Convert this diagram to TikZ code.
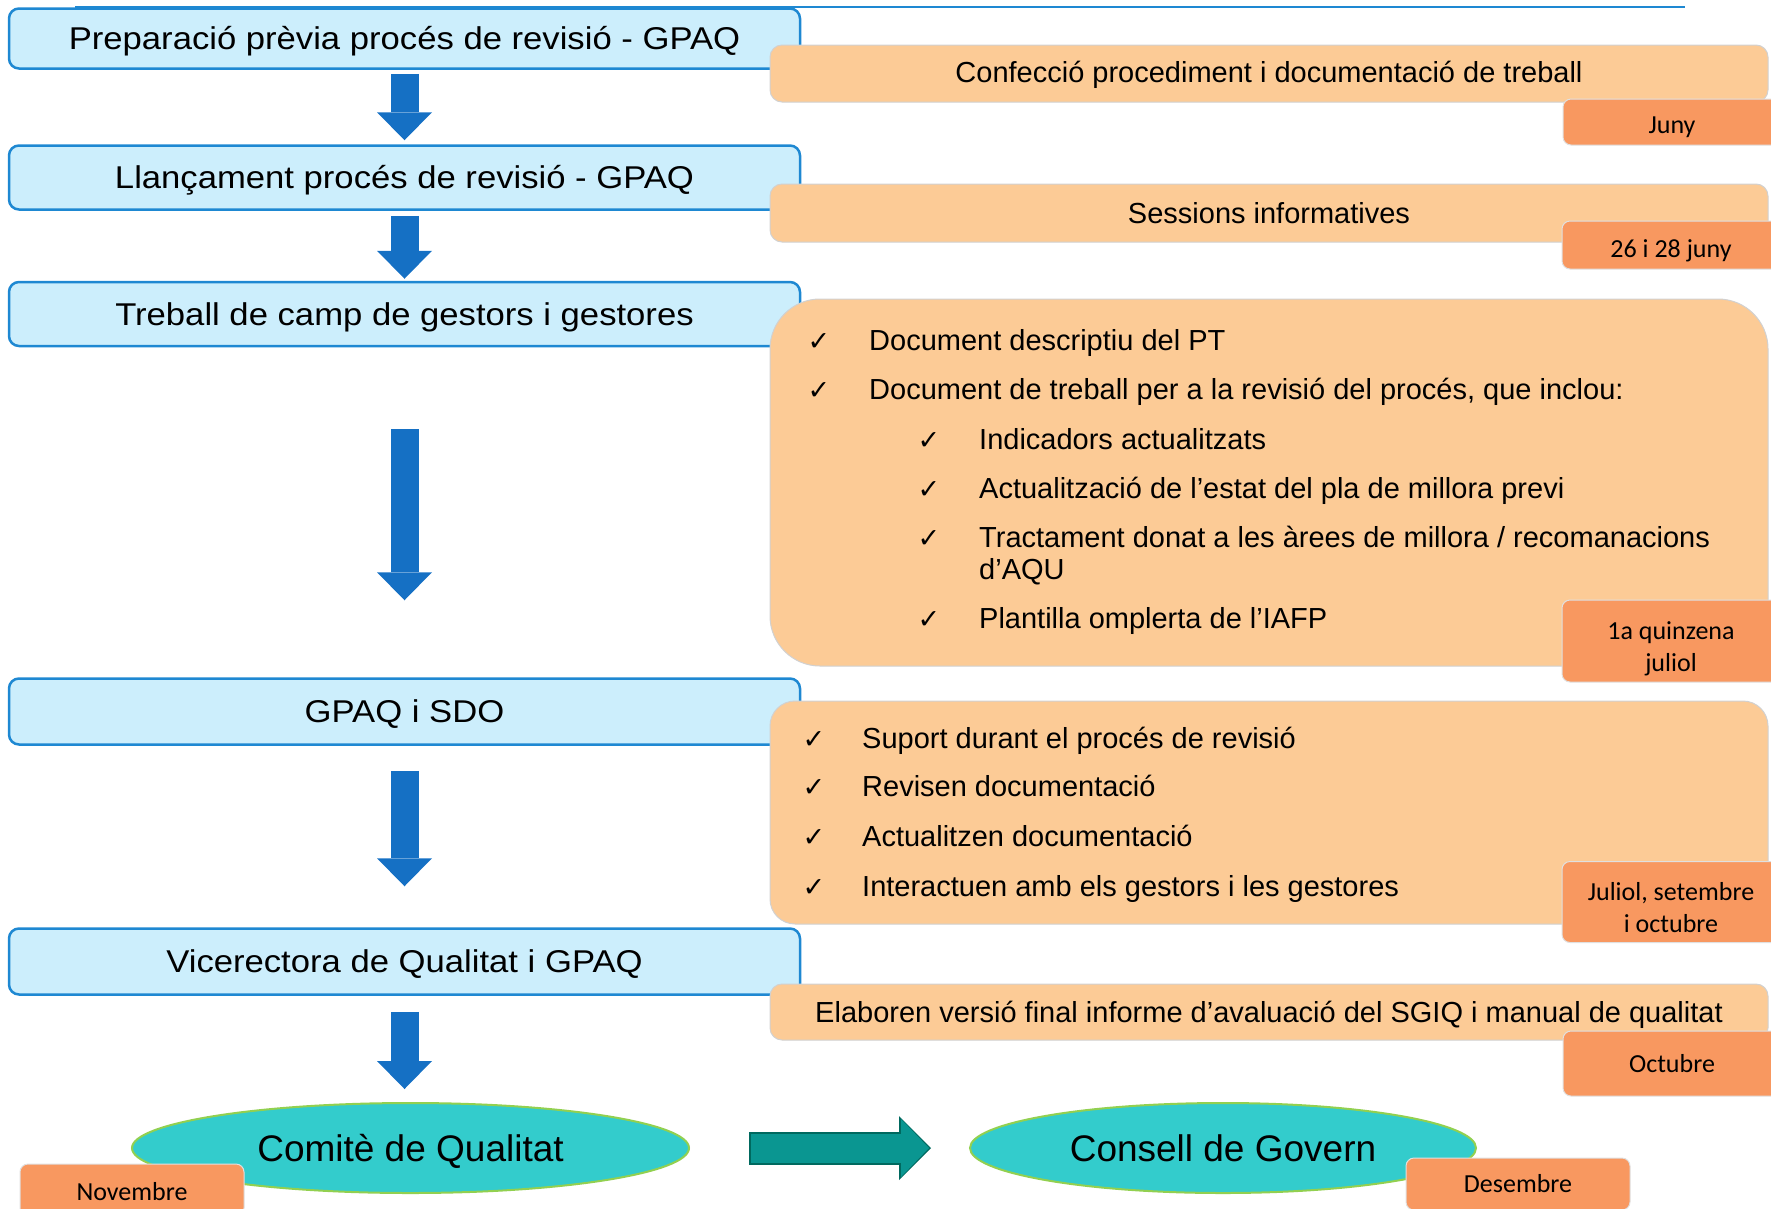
\documentclass[tikz,border=0pt]{standalone}
\usepackage{fontspec}
\setmainfont{Liberation Sans}
\newfontfamily\stagefont[FakeStretch=1.1]{Liberation Sans}
\newfontfamily\datefont{Carlito}
\newfontfamily\tickfont{DejaVu Sans}
\usetikzlibrary{arrows.meta,shapes.geometric}

\definecolor{boxblue}{RGB}{204,238,252}
\definecolor{lineblue}{RGB}{30,136,210}
\definecolor{arrowblue}{RGB}{21,112,196}
\definecolor{peach}{RGB}{252,203,150}
\definecolor{datebg}{RGB}{248,152,96}
\definecolor{tealfill}{RGB}{51,204,204}
\definecolor{tealarrow}{RGB}{10,150,145}
\definecolor{tealedge}{RGB}{0,105,95}
\definecolor{limeedge}{RGB}{146,208,80}

\newcommand{\tick}{{\tickfont\fontsize{27}{27}\selectfont ✓}}

\tikzset{
  stage/.style={draw=lineblue, line width=2.5pt, fill=boxblue, rounded corners=10pt,
    minimum width=791pt, inner sep=0pt, text height=28pt, text depth=6pt,
    font=\stagefont\fontsize{31.5}{38}\selectfont},
  task/.style={draw=black!18, line width=1pt, fill=peach, rounded corners=12pt,
    minimum width=998pt, inner sep=0pt, text height=27pt, text depth=6pt,
    font=\fontsize{29}{34}\selectfont},
  when/.style={draw=black!12, line width=1pt, fill=datebg, rounded corners=8pt,
    minimum width=218pt, inner sep=0pt, align=center, font=\datefont\fontsize{26}{32}\selectfont},
  body/.style={ellipse, draw=limeedge, line width=2pt, fill=tealfill, inner sep=0pt,
    text height=33pt, text depth=6.5pt, font=\fontsize{37}{40}\selectfont},
  checkitem/.style={anchor=base west, inner sep=0pt, font=\fontsize{29}{33}\selectfont},
  checkmark/.style={anchor=base, inner sep=0pt},
  down/.style={arrowblue, line width=28pt, -{Triangle[width=55pt,length=28pt,line width=0pt]}},
}

\begin{document}
\begin{tikzpicture}[x=1pt,y=-1pt]
  \useasboundingbox (0,0) rectangle (1771,1208);

  \draw[lineblue, line width=2pt] (75,7) -- (1685,7);

  % left column
  \node[stage, minimum height=60pt] (prep) at (404.5,38.5) {Preparació prèvia procés de revisió - GPAQ};
  \node[stage, minimum height=64pt] (llanc) at (404.5,177.5) {Llançament procés de revisió - GPAQ};
  \node[stage, minimum height=64pt] (camp) at (404.5,314) {Treball de camp de gestors i gestores};
  \node[stage, minimum height=66pt] (sdo) at (404.5,711.5) {GPAQ i SDO};
  \node[stage, minimum height=66pt] (vice) at (404.5,961.5) {Vicerectora de Qualitat i GPAQ};

  \node[body, minimum width=557pt, minimum height=90pt] (comite) at (410.5,1148) {Comitè de Qualitat};
  \node[body, minimum width=506pt, minimum height=90pt] (consell) at (1223,1148) {Consell de Govern};

  \draw[down, shorten <=4pt, shorten >=4pt] (prep) -- (llanc);
  \draw[down, shorten <=5pt, shorten >=2pt] (llanc) -- (camp);
  \draw[down, shorten <=82pt, shorten >=77pt] (camp) -- (sdo);
  \draw[down, shorten <=25pt, shorten >=41pt] (sdo) -- (vice);
  \draw[down, shorten <=16pt, shorten >=13pt] (vice.south) -- (vice.south |- comite.north);

  \draw[tealedge, line width=33pt, shorten <=59pt, shorten >=38pt,
    -{Triangle[width=64pt,length=32pt,line width=0pt]}] (comite) -- (consell);
  \draw[tealarrow, line width=29pt, shorten <=61pt, shorten >=40pt,
    -{Triangle[width=58pt,length=28pt,line width=0pt]}] (comite) -- (consell);

  % right column
  \node[task, minimum height=57pt, text height=23pt] (confec) at (1269,73.5) {Confecció procediment i documentació de treball};
  \node[task, minimum height=58pt] (sessions) at (1269,213) {Sessions informatives};
  \node[task, minimum height=367pt, rounded corners=50pt] (docs) at (1269,482.5) {};
  \node[task, minimum height=223pt, rounded corners=25pt] (suport) at (1269,812.5) {};
  \node[task, minimum height=56pt] (final) at (1269,1012) {Elaboren versió final informe d’avaluació del SGIQ i manual de qualitat};

  \foreach \y/\txt in {350/Document descriptiu del PT,
                       399/{Document de treball per a la revisió del procés, que inclou:}} {
    \node[checkmark] at (819,\y) {\tick};
    \node[checkitem] at (869,\y) {\txt};
  }
  \foreach \y/\txt in {449/Indicadors actualitzats,
                       498/Actualització de l’estat del pla de millora previ,
                       547/{Tractament donat a les àrees de millora / recomanacions},
                       628/Plantilla omplerta de l’IAFP} {
    \node[checkmark] at (929,\y) {\tick};
    \node[checkitem] at (979,\y) {\txt};
  }
  \node[checkitem] (aqu) at (979,579) {d’AQU};

  \foreach \y/\txt in {748/Suport durant el procés de revisió,
                       796/Revisen documentació,
                       846/Actualitzen documentació,
                       896/Interactuen amb els gestors i les gestores} {
    \node[checkmark] at (814,\y) {\tick};
    \node[checkitem] at (862,\y) {\txt};
  }

  % dates
  \node[when, minimum height=46pt] (juny) at (1672,122) {\rule{0pt}{27pt}Juny};
  \node[when, minimum height=48pt] (sess) at (1671,245) {\rule{0pt}{29pt}26 i 28 juny};
  \node[when, minimum height=82pt] (quinz) at (1671,641) {\rule{0pt}{33pt}1a quinzena\\juliol};
  \node[when, minimum height=81pt] (juliol) at (1671,902) {\rule{0pt}{30pt}Juliol, setembre\\i octubre};
  \node[when, minimum height=65pt] (oct) at (1672,1063.5) {Octubre};
  \node[when, minimum width=224pt, minimum height=52pt] (nov) at (132,1190) {\rule{0pt}{21pt}Novembre};
  \node[when, minimum width=224pt, minimum height=52pt] (des) at (1518,1184) {Desembre};
\end{tikzpicture}
\end{document}
